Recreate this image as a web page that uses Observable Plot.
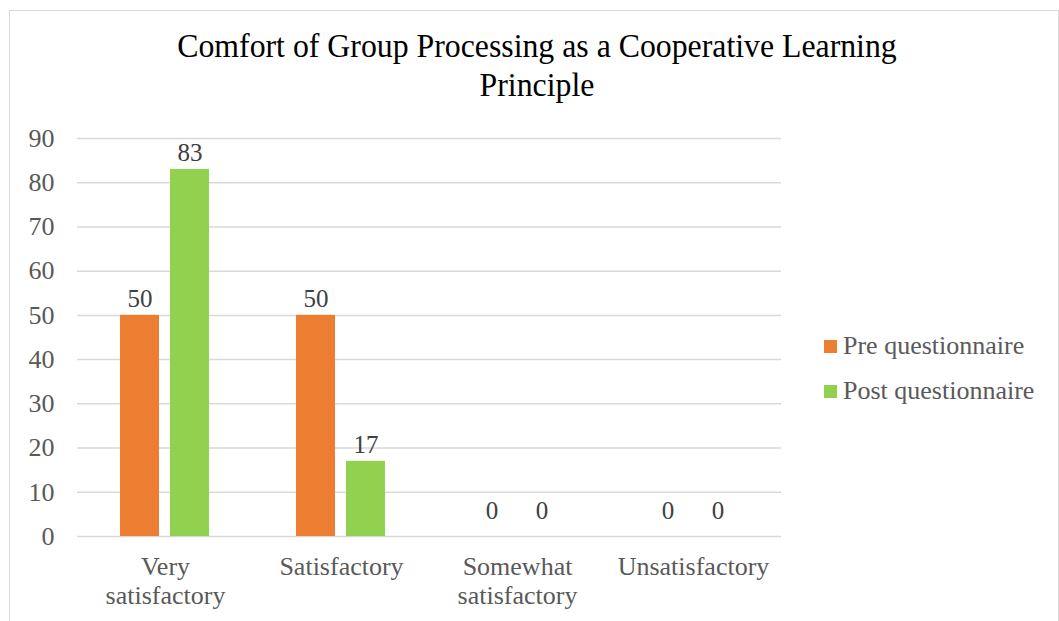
<!DOCTYPE html>
<html><head><meta charset="utf-8">
<script src="https://cdn.jsdelivr.net/npm/d3@7"></script>
<script src="https://cdn.jsdelivr.net/npm/@observablehq/plot@0.6"></script>
<style>
body{margin:0;background:#fff;}
#wrap{position:relative;width:1059px;height:621px;overflow:hidden;font-family:"Liberation Serif","Times New Roman",serif;background:#fff;}
#frame{position:absolute;left:9px;top:10px;width:1050px;height:640px;border:1.5px solid #d9d9d9;box-sizing:border-box;}
#title{position:absolute;left:0;width:1074px;top:26px;text-align:center;font-size:34px;line-height:39px;color:#000;transform:scaleX(0.935);white-space:nowrap;}
#chart{position:absolute;left:0;top:110px;}
.lg-row{position:absolute;left:824px;font-size:26px;color:#595959;white-space:nowrap;}
.lg-sw{position:absolute;left:0;width:13px;height:13px;}
.lg-tx{position:absolute;left:19px;line-height:26px;}
</style>
</head><body>
<div id="wrap">
  <div id="frame"></div>
  <div id="title">Comfort of Group Processing as a Cooperative Learning<br>Principle</div>
  <div id="chart"></div>
  <div id="legend"></div>
</div>
<script>
const categories = ["Very satisfactory", "Satisfactory", "Somewhat satisfactory", "Unsatisfactory"];
const categoryLabels = ["Very\nsatisfactory", "Satisfactory", "Somewhat\nsatisfactory", "Unsatisfactory"];
const series = ["Pre questionnaire", "Post questionnaire"];
const preValues = [50, 50, 0, 0];
const postValues = [83, 17, 0, 0];
const colors = ["#ED7D31", "#92D050"];
const yTicks = [0, 10, 20, 30, 40, 50, 60, 70, 80, 90];

const table = [];
categories.forEach((c, i) => {
  table.push({category: c, series: series[0], value: preValues[i]});
  table.push({category: c, series: series[1], value: postValues[i]});
});

const chart = Plot.plot({
  width: 1059,
  height: 511,
  marginLeft: 76,
  marginRight: 277,
  marginTop: 28,
  marginBottom: 85,
  style: {fontFamily: '"Liberation Serif","Times New Roman",serif', fontSize: "26px", color: "#595959", background: "transparent"},
  fx: {domain: categories, padding: 0, axis: null, label: null},
  x: {domain: series, paddingInner: 0.216, paddingOuter: 0.838, axis: null, label: null},
  y: {domain: [0, 90], ticks: yTicks, tickSize: 0, tickPadding: 23, label: null},
  color: {domain: series, range: colors},
  marks: [
    Plot.ruleY(yTicks, {stroke: "#d9d9d9", strokeWidth: 1.5}),
    Plot.barY(table, {fx: "category", x: "series", y: "value", fill: "series"}),
    Plot.text(table.filter(d => d.value > 0), {fx: "category", x: "series", y: "value", text: d => String(d.value), lineAnchor: "bottom", dy: -8, fontSize: 25, fill: "#404040"}),
    Plot.text(table.filter(d => d.value === 0), {fx: "category", x: "series", y: "value", text: d => String(d.value), lineAnchor: "bottom", dy: -18, fontSize: 25, fill: "#404040"}),
    Plot.text(categories, {fx: d => d, text: (d, i) => categoryLabels[i], frameAnchor: "bottom", lineAnchor: "top", dy: 18, lineHeight: 1.12, fontSize: 26, fill: "#595959"})
  ]
});
document.getElementById("chart").appendChild(chart);

const legend = d3.select("#legend");
series.forEach((s, i) => {
  const row = legend.append("div").attr("class", "lg-row").style("top", (340 + i * 45) + "px");
  row.append("div").attr("class", "lg-sw").style("top", "0px").style("background", colors[i]);
  row.append("div").attr("class", "lg-tx").style("top", "-7px").text(s);
});
</script>
</body></html>
